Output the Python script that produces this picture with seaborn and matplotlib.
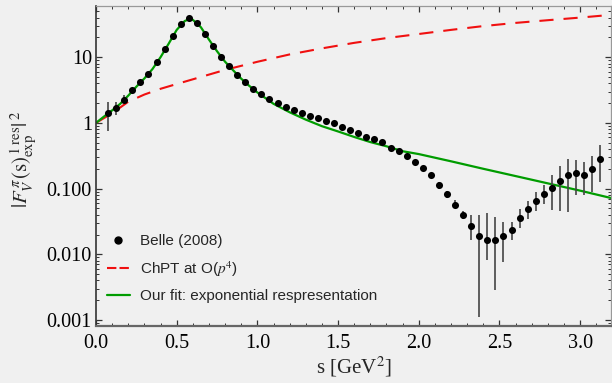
import numpy as np
import matplotlib
matplotlib.use("Agg")
import matplotlib.pyplot as plt
from matplotlib.lines import Line2D
from matplotlib.ticker import MultipleLocator, LogLocator, NullFormatter
import seaborn as sns

# Belle (2008) data points
s_belle = [0.075, 0.125, 0.175, 0.225, 0.275, 0.325, 0.375, 0.425, 0.475, 0.525,
           0.575, 0.625, 0.675, 0.725, 0.775, 0.825, 0.875, 0.925, 0.975, 1.025,
           1.075, 1.125, 1.175, 1.225, 1.275, 1.325, 1.375, 1.425, 1.475, 1.525,
           1.575, 1.625, 1.675, 1.725, 1.775, 1.825, 1.875, 1.925, 1.975, 2.025,
           2.075, 2.125, 2.175, 2.225, 2.275, 2.325, 2.375, 2.425, 2.475, 2.525,
           2.575, 2.625, 2.675, 2.725, 2.775, 2.825, 2.875, 2.925, 2.975, 3.025,
           3.075, 3.125]
f_belle = [1.40, 1.67, 2.25, 3.13, 4.13, 5.46, 8.3, 13.1, 21.3, 32.4,
           39.9, 33.6, 22.6, 15.0, 10.1, 7.3, 5.4, 4.25, 3.31, 2.78,
           2.32, 2.03, 1.77, 1.59, 1.43, 1.29, 1.20, 1.08, 0.99, 0.88,
           0.79, 0.70, 0.62, 0.56, 0.51, 0.42, 0.37, 0.31, 0.25, 0.208,
           0.160, 0.113, 0.082, 0.057, 0.039, 0.027, 0.019, 0.0165, 0.0165, 0.019,
           0.0233, 0.0355, 0.0486, 0.064, 0.082, 0.101, 0.129, 0.159, 0.171, 0.159,
           0.196, 0.278]
err_minus = [0.64, 0.35, 0.26, 0.23] + [0.0] * 37 + [
    0.013, 0.009, 0.007, 0.005, 0.0105, 0.0179, 0.0083, 0.0136, 0.0115, 0.0068,
    0.0101, 0.0138, 0.0187, 0.0247, 0.053, 0.0837, 0.1146, 0.090, 0.078, 0.108,
    0.153]
err_plus = [0.70, 0.43, 0.40, 0.27] + [0.0] * 37 + [
    0.013, 0.010, 0.009, 0.006, 0.012, 0.0204, 0.0263, 0.0208, 0.0119, 0.0079,
    0.0137, 0.0172, 0.0239, 0.030, 0.058, 0.089, 0.126, 0.097, 0.091, 0.120,
    0.175]

# ChPT at O(p^4)
s_chpt = [0.0, 0.1, 0.2, 0.3, 0.4, 0.5, 0.6, 0.8, 1.0, 1.2, 1.4, 1.6, 1.8,
          2.0, 2.2, 2.4, 2.6, 2.8, 3.0, 3.2]
f_chpt = [1.0, 1.4, 2.1, 2.7, 3.3, 3.9, 4.6, 6.4, 8.5, 11.0, 13.6, 16.5, 19.5,
          22.5, 26.0, 29.7, 33.2, 36.5, 40.0, 44.2]

# fit: exponential representation
s_fit = [0.0, 0.05, 0.1, 0.15, 0.2, 0.25, 0.3, 0.35, 0.4, 0.45, 0.5, 0.55, 0.58,
         0.6, 0.65, 0.7, 0.75, 0.8, 0.85, 0.9, 0.95, 1.0, 1.1, 1.2, 1.3, 1.4,
         1.5, 1.6, 1.7, 1.8, 1.9, 2.0, 2.2, 2.4, 2.6, 2.8, 3.0, 3.2]
f_fit = [1.0, 1.25, 1.55, 1.95, 2.6, 3.55, 4.75, 6.6, 10.0, 16.0, 26.0, 35.5, 38.0,
         37.0, 28.5, 18.5, 12.3, 8.5, 6.3, 4.7, 3.65, 2.9, 1.95, 1.45, 1.12, 0.89,
         0.74, 0.61, 0.51, 0.44, 0.37, 0.335, 0.26, 0.2, 0.155, 0.12, 0.093, 0.071]

y_ticks = [0.001, 0.01, 0.1, 1, 10]
y_ticklabels = ["0.001", "0.010", "0.100", "1", "10"]
x_ticks = [0.0, 0.5, 1.0, 1.5, 2.0, 2.5, 3.0]

sns.set_theme(style="ticks")
bg = "#f0f0f0"
plt.rcParams["font.family"] = ["Liberation Serif", "DejaVu Serif"]
plt.rcParams["mathtext.fontset"] = "stix"

fig = plt.figure(figsize=(6.12, 3.83), dpi=100, facecolor=bg)
ax = fig.add_axes([0.1569, 0.1488, 0.8411, 0.8355])
ax.set_facecolor(bg)

red = "#f01010"
green = "#009c00"

sns.lineplot(x=s_chpt, y=f_chpt, ax=ax, color=red, lw=1.5,
             linestyle=(0, (6.8, 4.8)), sort=False, estimator=None)
sns.lineplot(x=s_fit, y=f_fit, ax=ax, color=green, lw=1.6, sort=False, estimator=None)
ax.errorbar(s_belle, f_belle, yerr=[err_minus, err_plus], fmt="none",
            ecolor="#454545", elinewidth=1.2, capsize=0, zorder=3)
sns.scatterplot(x=s_belle, y=f_belle, ax=ax, color="black", s=26, linewidth=0, zorder=4)

ax.set_yscale("log")
ax.set_xlim(0, 3.19)
ax.set_ylim(0.00081, 60)

ax.set_yticks(y_ticks)
ax.set_yticklabels(y_ticklabels)
ax.yaxis.set_minor_locator(LogLocator(base=10, subs=np.arange(2, 10)))
ax.yaxis.set_minor_formatter(NullFormatter())
ax.set_xticks(x_ticks)
ax.set_xticklabels([f"{v:.1f}" for v in x_ticks])
ax.xaxis.set_minor_locator(MultipleLocator(0.1))

ax.tick_params(which="both", direction="in", top=True, right=True,
               labelsize=14.5, colors="#333333", labelcolor="black")
ax.tick_params(which="major", length=4.5, width=0.9)
ax.tick_params(which="minor", length=2.5, width=0.7)
ax.tick_params(axis="y", pad=3)
ax.tick_params(axis="x", pad=6)

ax.spines["left"].set_color("#333333")
ax.spines["left"].set_linewidth(1.2)
ax.spines["bottom"].set_color("#666666")
ax.spines["bottom"].set_linewidth(1.6)
for side in ["top", "right"]:
    ax.spines[side].set_color("#999999")
    ax.spines[side].set_linewidth(0.9)

ax.set_xlabel(r"s [GeV$^2$]", fontsize=15)
ax.xaxis.set_label_coords(0.5, -0.09)
ax.set_ylabel(r"$|F_V^{\,\pi}(\mathrm{s})^{\,1\ \mathrm{res}}_{\mathrm{exp}}|^{\,2}$",
              fontsize=15)
ax.yaxis.set_label_coords(-0.112, 0.52)

handles = [
    Line2D([], [], ls="none", marker="o", color="black", ms=5),
    Line2D([], [], color=red, lw=1.5, linestyle=(0, (4.5, 1.5))),
    Line2D([], [], color=green, lw=1.6),
]
labels = ["Belle (2008)", r"ChPT at O($p^4$)", "Our fit: exponential respresentation"]
leg = ax.legend(handles, labels, loc="upper left", bbox_to_anchor=(0.0, 0.32),
                frameon=False, handlelength=1.5, handletextpad=0.7,
                labelspacing=0.7, borderaxespad=0.3,
                prop={"family": ["Liberation Sans", "DejaVu Sans"], "size": 11})

fig.savefig("out.png", dpi=100, facecolor=bg)
